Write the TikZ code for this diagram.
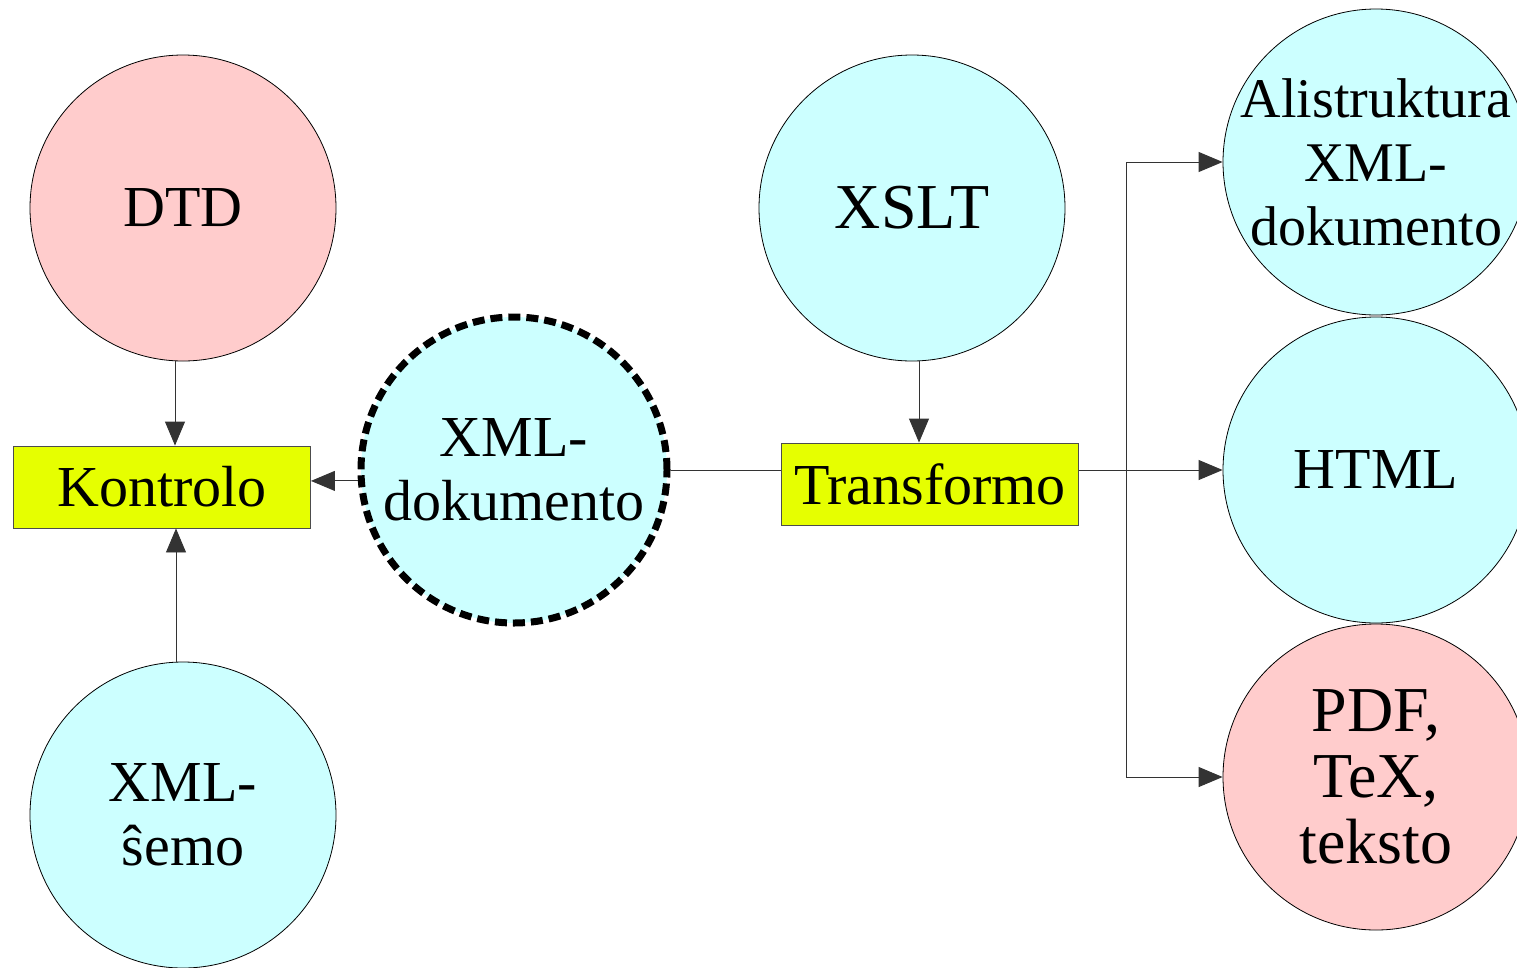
\documentclass[tikz,border=0pt]{standalone}
\usepackage{fontspec}
\setmainfont{Liberation Serif}
\usetikzlibrary{arrows.meta}
\definecolor{rozo}{HTML}{FFCCCC}
\definecolor{cejana}{HTML}{CCFFFF}
\definecolor{flava}{HTML}{E6FF00}
\begin{document}
\begin{tikzpicture}[x=1pt,y=-1pt,
    ball/.style={circle,draw,line width=0.8pt,minimum size=306pt,inner sep=0pt,align=center,font=\fontsize{58}{64}\selectfont},
    box/.style={draw=black!70,line width=0.9pt,fill=flava,minimum width=297pt,minimum height=82pt,inner sep=0pt,font=\fontsize{58}{64}\selectfont},
    conn/.style={draw=black!80,line width=0.9pt},
    >={Triangle[length=24pt,width=20pt]}]
    \useasboundingbox (0,0) rectangle (1517,967);

    % kontrolo
    \node (DTD) at (183,208) [ball,fill=rozo]{DTD};
    \node (Skemo) at (183,815) [ball,fill=cejana]{XML-\\ŝemo};
    \node (Kon) at (162,487) [box]{Kontrolo};
    \node (Dok) at (514,470) [ball,fill=cejana,line width=7pt,dash pattern=on 12pt off 6pt]{XML-\\dokumento};
    \draw [conn,->] ([xshift=-8pt]DTD.south) to ([xshift=-8pt]DTD.south |- Kon.north);
    \draw [conn,->] ([xshift=-7pt]Skemo.north) to ([xshift=-7pt]Skemo.north |- Kon.south);
    \draw [conn,->] (Dok.184) to (Kon.east |- Dok.184);

    % transformo
    \node (XSLT) at (912,208) [ball,fill=cejana,font=\fontsize{64}{70}\selectfont]{XSLT};
    \node (Trans) at (930,484) [box]{Transformo};
    \draw [conn] (Dok.east) to (Trans.west |- Dok.east);
    \draw [conn,->] ([xshift=7pt]XSLT.south) to ([xshift=7pt]XSLT.south |- Trans.north);

    % eligoj
    \node (Ali) at (1376,162) [ball,fill=cejana,inner sep=-14pt,font=\fontsize{56}{64}\selectfont]{Alistruktura\\XML-\\dokumento};
    \node (HTML) at (1376,470) [ball,fill=cejana]{HTML};
    \node (PDF) at (1376,777) [ball,fill=rozo,font=\fontsize{64}{66}\selectfont]{PDF,\\TeX,\\teksto};
    \coordinate (fork) at (1126,470);
    \draw [conn] (Trans.east |- fork) to (fork);
    \draw [conn,->] (fork) |- (Ali.west);
    \draw [conn,->] (fork) to (HTML.west);
    \draw [conn,->] (fork) |- (PDF.west);
\end{tikzpicture}
\end{document}
